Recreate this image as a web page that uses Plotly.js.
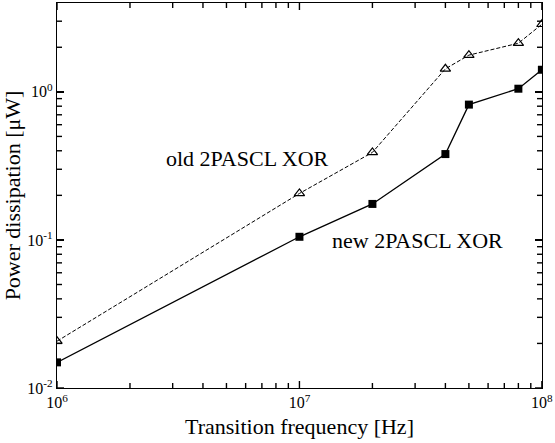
<!DOCTYPE html>
<html>
<head>
<meta charset="utf-8">
<script src="https://cdn.plot.ly/plotly-3.0.1.min.js"></script>
<style>html,body{margin:0;padding:0;background:#fff;}#chart{width:555px;height:443px;}</style>
</head>
<body>
<div id="chart"></div>
<script>
const freq = [1e6, 1e7, 2e7, 4e7, 5e7, 8e7, 1e8];
const oldXor = [0.0207, 0.206, 0.39, 1.43, 1.77, 2.13, 2.86];
const newXor = [0.0149, 0.105, 0.175, 0.38, 0.82, 1.05, 1.41];
const oldLabel = "old 2PASCL XOR";
const newLabel = "new 2PASCL XOR";
const xMajorTicks = [1e6, 1e7, 1e8];
const xMajorText = ['10<sup>6</sup>', '10<sup>7</sup>', '10<sup>8</sup>'];
const yMajorTicks = [0.01, 0.1, 1];
const yMajorText = ['10<sup>-2</sup>', '10<sup>-1</sup>', '10<sup>0</sup>'];
const xMinorTicks = [2e6,3e6,4e6,5e6,6e6,7e6,8e6,9e6,2e7,3e7,4e7,5e7,6e7,7e7,8e7,9e7];
const yMinorTicks = [0.02,0.03,0.04,0.05,0.06,0.07,0.08,0.09,0.2,0.3,0.4,0.5,0.6,0.7,0.8,0.9,2,3];

const font = "'Liberation Serif', 'Times New Roman', serif";
const xRange = [6, 8.0005];
const yRange = [-2, 0.6];

const traces = [
  {x: freq, y: oldXor, mode: 'lines+markers', name: oldLabel,
   line: {color: '#000', width: 1, dash: '4px,2px'},
   marker: {symbol: 'triangle-up-open', size: 9, color: '#000', line: {width: 1.2, color: '#000'}}},
  {x: freq, y: newXor, mode: 'lines+markers', name: newLabel,
   line: {color: '#000', width: 1.3},
   marker: {symbol: 'square', size: 8, color: '#000'}}
];

const tickShapes = [];
function xTick(v, len) {
  tickShapes.push({type: 'line', xref: 'x', yref: 'paper', ysizemode: 'pixel', yanchor: 0,
    x0: v, x1: v, y0: 0, y1: len, line: {color: '#000', width: 1.4}});
  tickShapes.push({type: 'line', xref: 'x', yref: 'paper', ysizemode: 'pixel', yanchor: 1,
    x0: v, x1: v, y0: 0, y1: -len, line: {color: '#000', width: 1.4}});
}
function yTick(v, len) {
  tickShapes.push({type: 'line', yref: 'y', xref: 'paper', xsizemode: 'pixel', xanchor: 0,
    y0: v, y1: v, x0: 0, x1: len, line: {color: '#000', width: 1.4}});
  tickShapes.push({type: 'line', yref: 'y', xref: 'paper', xsizemode: 'pixel', xanchor: 1,
    y0: v, y1: v, x0: 0, x1: -len, line: {color: '#000', width: 1.4}});
}
xMajorTicks.forEach(v => xTick(v, 7));
xMinorTicks.forEach(v => xTick(v, 5));
yMajorTicks.forEach(v => yTick(v, 7));
yMinorTicks.forEach(v => yTick(v, 5));

const base = {
  type: 'log', showgrid: false, zeroline: false,
  showline: true, linecolor: '#000', linewidth: 1.2, mirror: 'allticks',
  ticks: 'inside', ticklen: 7, tickwidth: 1.4, tickcolor: '#000', tickmode: 'array',
  tickfont: {family: font, size: 16, color: '#000'}
};

const layout = {
  width: 555, height: 443,
  margin: {l: 57, r: 13, t: 3, b: 55},
  paper_bgcolor: '#fff', plot_bgcolor: '#fff',
  showlegend: false,
  font: {family: font, color: '#000'},
  xaxis: Object.assign({}, base, {
    range: xRange, tickvals: xMajorTicks, ticktext: xMajorText,
    title: {text: 'Transition frequency [Hz]', font: {family: font, size: 22, color: '#000'}, standoff: 8}
  }),
  yaxis: Object.assign({}, base, {
    range: yRange, tickvals: yMajorTicks, ticktext: yMajorText,
    title: {text: 'Power dissipation [μW]', font: {family: font, size: 22, color: '#000'}, standoff: 10}
  }),
  shapes: tickShapes,
  annotations: [
    {x: Math.log10(2.76e6), y: Math.log10(0.355), xref: 'x', yref: 'y', text: oldLabel, showarrow: false,
     xanchor: 'left', yanchor: 'middle', font: {family: font, size: 22, color: '#000'}},
    {x: Math.log10(1.34e7), y: Math.log10(0.0984), xref: 'x', yref: 'y', text: newLabel, showarrow: false,
     xanchor: 'left', yanchor: 'middle', font: {family: font, size: 22, color: '#000'}}
  ]
};

Plotly.newPlot('chart', traces, layout, {staticPlot: true, displayModeBar: false});
</script>
</body>
</html>
